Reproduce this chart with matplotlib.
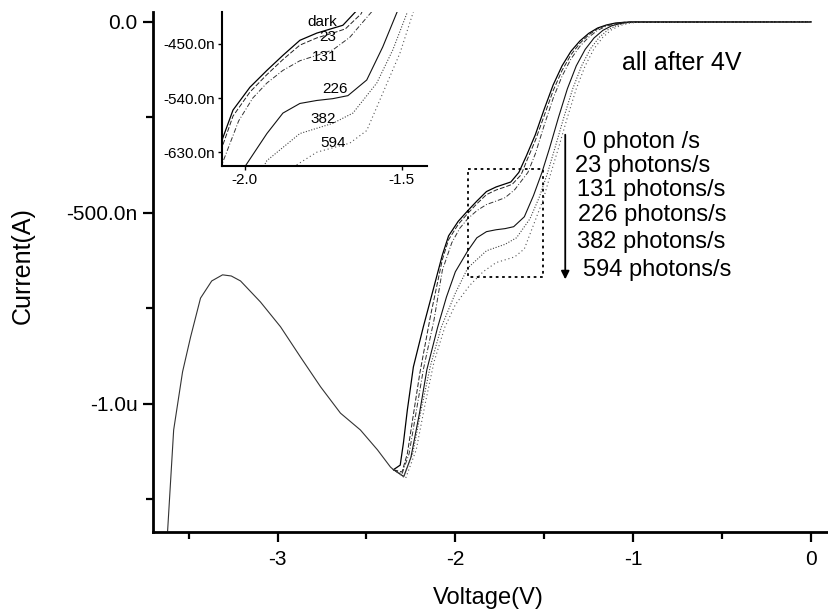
import matplotlib
matplotlib.use("Agg")
import matplotlib.pyplot as plt

plt.rcParams['font.family'] = ['Liberation Sans', 'DejaVu Sans']

# voltages in V, currents in uA
# common part (dark scan before the curves split)
left_v = [-3.618, -3.584, -3.534, -3.489, -3.433, -3.37, -3.309, -3.26, -3.208,
          -3.096, -2.983, -2.871, -2.758, -2.646, -2.534, -2.438, -2.365, -2.348]
left_i = [-1.332, -1.068, -0.916, -0.825, -0.723, -0.678, -0.662, -0.665, -0.678,
          -0.733, -0.798, -0.877, -0.955, -1.024, -1.068, -1.120, -1.165, -1.172]

dark_v = [-2.348, -2.31, -2.292, -2.270, -2.236, -2.180, -2.140, -2.073, -2.038,
          -1.984, -1.930, -1.879, -1.825, -1.771, -1.720, -1.688, -1.643, -1.60,
          -1.55, -1.50, -1.45, -1.40, -1.35, -1.30, -1.25, -1.20, -1.15, -1.10,
          -1.05, -1.0, 0.0]
dark_i = [-1.172, -1.160, -1.102, -1.016, -0.903, -0.798, -0.728, -0.610, -0.560,
          -0.522, -0.494, -0.469, -0.444, -0.432, -0.424, -0.419, -0.394, -0.350,
          -0.295, -0.228, -0.165, -0.115, -0.077, -0.050, -0.030, -0.016, -0.008,
          -0.003, -0.001, 0.0, 0.0]

p23_v = [-2.348, -2.30, -2.27, -2.24, -2.20, -2.14, -2.073, -2.038, -1.984, -1.930,
         -1.879, -1.825, -1.771, -1.720, -1.680, -1.630, -1.60, -1.55, -1.50, -1.45,
         -1.40, -1.35, -1.30, -1.25, -1.20, -1.15, -1.10, -1.05, -1.0, 0.0]
p23_i = [-1.172, -1.178, -1.130, -1.040, -0.920, -0.770, -0.622, -0.570, -0.530,
         -0.501, -0.476, -0.452, -0.440, -0.432, -0.425, -0.400, -0.365, -0.310,
         -0.245, -0.180, -0.127, -0.086, -0.056, -0.034, -0.018, -0.009, -0.004,
         -0.001, 0.0, 0.0]

p131_v = [-2.348, -2.30, -2.26, -2.22, -2.18, -2.12, -2.073, -2.02, -1.975, -1.930,
          -1.879, -1.825, -1.771, -1.720, -1.666, -1.592, -1.55, -1.50, -1.45,
          -1.40, -1.35, -1.30, -1.25, -1.20, -1.15, -1.10, -1.05, -1.0, 0.0]
p131_i = [-1.172, -1.183, -1.130, -1.020, -0.910, -0.780, -0.650, -0.578, -0.540,
          -0.515, -0.494, -0.478, -0.469, -0.460, -0.439, -0.394, -0.345, -0.270,
          -0.200, -0.142, -0.097, -0.064, -0.040, -0.022, -0.011, -0.005, -0.002,
          -0.0005, 0.0]

p226_v = [-2.348, -2.29, -2.25, -2.20, -2.16, -2.10, -2.05, -2.0, -1.930, -1.879,
          -1.825, -1.771, -1.720, -1.672, -1.612, -1.561, -1.513, -1.47, -1.42,
          -1.37, -1.32, -1.27, -1.22, -1.17, -1.12, -1.07, -1.02, 0.0]
p226_i = [-1.172, -1.190, -1.140, -1.020, -0.910, -0.800, -0.720, -0.654, -0.599,
          -0.565, -0.549, -0.544, -0.541, -0.536, -0.510, -0.455, -0.394, -0.330,
          -0.250, -0.175, -0.115, -0.072, -0.042, -0.022, -0.010, -0.004, -0.001,
          0.0]

p382_v = [-2.348, -2.29, -2.24, -2.19, -2.14, -2.08, -2.0, -1.930, -1.825, -1.720,
          -1.656, -1.580, -1.529, -1.484, -1.44, -1.39, -1.34, -1.29, -1.24, -1.19,
          -1.14, -1.09, -1.04, -0.99, 0.0]
p382_i = [-1.172, -1.190, -1.130, -1.010, -0.900, -0.800, -0.710, -0.644, -0.599,
          -0.582, -0.565, -0.515, -0.460, -0.399, -0.330, -0.250, -0.175, -0.115,
          -0.070, -0.040, -0.020, -0.009, -0.003, -0.001, 0.0]

p594_v = [-2.348, -2.28, -2.22, -2.17, -2.12, -2.06, -2.0, -1.92, -1.844, -1.771,
          -1.666, -1.612, -1.561, -1.506, -1.465, -1.42, -1.37, -1.32, -1.27, -1.22,
          -1.17, -1.12, -1.07, -1.02, -0.97, 0.0]
p594_i = [-1.172, -1.195, -1.120, -1.000, -0.890, -0.800, -0.740, -0.690, -0.654,
          -0.630, -0.615, -0.594, -0.532, -0.465, -0.399, -0.330, -0.250, -0.175,
          -0.115, -0.070, -0.040, -0.020, -0.009, -0.003, -0.001, 0.0]

legend_labels = ['0 photon /s', '23 photons/s', '131 photons/s', '226 photons/s',
                 '382 photons/s', '594 photons/s']
inset_labels = ['dark', '23', '131', '226', '382', '594']

y_ticks = [0.0, -0.5, -1.0]
y_ticklabels = ['0.0', '-500.0n', '-1.0u']
x_ticks = [-3, -2, -1, 0]
inset_yticks = [-0.45, -0.54, -0.63]
inset_yticklabels = ['-450.0n', '-540.0n', '-630.0n']
inset_xticks = [-2.0, -1.5]

curves = [(dark_v, dark_i, dict(ls='-', lw=0.9, color='black')),
          (p23_v, p23_i, dict(ls=(0, (5, 2)), lw=0.7, color='#222222')),
          (p131_v, p131_i, dict(ls=(0, (5, 2, 1, 2)), lw=0.7, color='#333333')),
          (p226_v, p226_i, dict(ls='-', lw=0.8, color='#111111')),
          (p382_v, p382_i, dict(ls=(0, (1, 1.5)), lw=0.8, color='#444444')),
          (p594_v, p594_i, dict(ls=(0, (1, 2.5)), lw=0.8, color='#555555'))]

fig = plt.figure(figsize=(8.29, 6.14), dpi=100)
ax = fig.add_axes([0.1846, 0.1336, 0.8130, 0.8469])

ax.plot(left_v, left_i, color='#333333', lw=0.8)
for v, i, st in curves:
    ax.plot(v, i, **st)

ax.set_xlim(-3.70, 0.09)
ax.set_ylim(-1.335, 0.026)
ax.set_xticks(x_ticks)
ax.set_xticklabels(['-3', '-2', '-1', '0'])
ax.set_xticks([-3.5, -2.5, -1.5, -0.5], minor=True)
ax.set_yticks(y_ticks)
ax.set_yticklabels(y_ticklabels)
ax.set_yticks([-0.25, -0.75, -1.25], minor=True)
for s in ['top', 'right']:
    ax.spines[s].set_visible(False)
for s in ['left', 'bottom']:
    ax.spines[s].set_linewidth(2)
ax.tick_params(which='major', direction='out', length=7, width=1.6,
               labelsize=15, pad=4)
ax.tick_params(axis='x', which='major', pad=6)
ax.tick_params(which='minor', direction='out', length=5, width=1.6)
ax.set_xlabel('Voltage(V)', fontsize=17)
ax.set_ylabel('Current(A)', fontsize=18)
ax.xaxis.set_label_coords(0.497, -0.105)
ax.yaxis.set_label_coords(-0.176, 0.512)

# dotted zoom box
box_v = [-1.927, -1.506, -1.506, -1.927, -1.927]
box_i = [-0.385, -0.385, -0.668, -0.668, -0.385]
ax.plot(box_v, box_i, color='black', lw=1.3, ls=(0, (1.5, 2)))

# arrow and labels
ax.annotate('', xy=(-1.382, -0.681), xytext=(-1.382, -0.288),
            arrowprops=dict(arrowstyle='-|>', color='black', lw=1.3,
                            mutation_scale=12))
label_x = [-1.281, -1.326, -1.315, -1.309, -1.315, -1.281]
label_y = [-0.314, -0.377, -0.440, -0.505, -0.576, -0.649]
for t, x, y in zip(legend_labels, label_x, label_y):
    ax.text(x, y, t, fontsize=17, va='center', ha='left')
ax.text(-1.062, -0.107, 'all after 4V', fontsize=18, va='center', ha='left')

# inset
axin = fig.add_axes([0.2678, 0.7296, 0.2473, 0.2508])
for v, i, st in curves:
    axin.plot(v, i, **st)
axin.set_xlim(-2.073, -1.42)
axin.set_ylim(-0.653, -0.397)
axin.set_xticks(inset_xticks)
axin.set_xticklabels(['-2.0', '-1.5'])
axin.set_yticks(inset_yticks)
axin.set_yticklabels(inset_yticklabels)
for s in ['top', 'right']:
    axin.spines[s].set_visible(False)
for s in ['left', 'bottom']:
    axin.spines[s].set_linewidth(1.5)
axin.tick_params(direction='out', length=3, width=1, labelsize=11, pad=2)
axin.patch.set_alpha(0)
in_x = [-1.755, -1.735, -1.745, -1.713, -1.751, -1.719]
in_y = [-0.414, -0.439, -0.472, -0.525, -0.575, -0.614]
for t, x, y in zip(inset_labels, in_x, in_y):
    axin.text(x, y, t, fontsize=11, ha='center', va='center')

fig.savefig('out.png', dpi=100)
